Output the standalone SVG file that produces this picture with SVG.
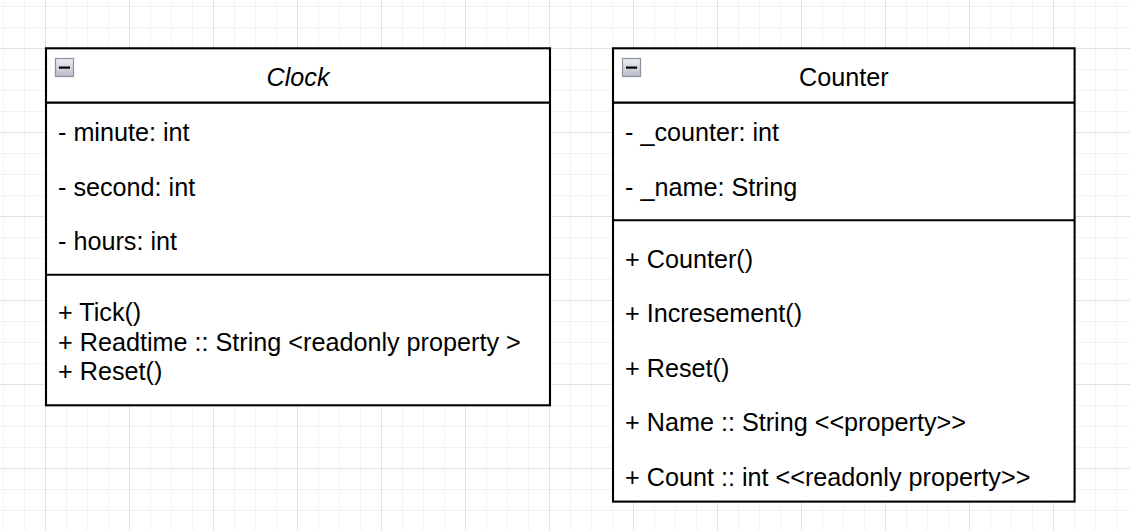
<svg xmlns="http://www.w3.org/2000/svg" width="1130" height="531" viewBox="0 0 1130 531">
  <defs>
    <pattern id="grid" x="45" y="48" width="84" height="84" patternUnits="userSpaceOnUse">
      <rect x="21" y="0" width="1" height="84" fill="#f3f3f3"/>
      <rect x="42" y="0" width="1" height="84" fill="#f3f3f3"/>
      <rect x="63" y="0" width="1" height="84" fill="#f3f3f3"/>
      <rect x="0" y="21" width="84" height="1" fill="#f3f3f3"/>
      <rect x="0" y="42" width="84" height="1" fill="#f3f3f3"/>
      <rect x="0" y="63" width="84" height="1" fill="#f3f3f3"/>
      <rect x="0" y="0" width="1" height="84" fill="#e2e2e2"/>
      <rect x="0" y="0" width="84" height="1" fill="#e2e2e2"/>
    </pattern>
    <linearGradient id="iconFill" x1="0" y1="0" x2="0" y2="1">
      <stop offset="0" stop-color="#eef0f3"/>
      <stop offset="1" stop-color="#b8bcc6"/>
    </linearGradient>
    <g id="collapse">
      <rect x="0.5" y="0.5" width="18" height="18" fill="url(#iconFill)" stroke="#8a92a2" stroke-width="1.2"/>
      <rect x="4" y="8.5" width="11" height="2.2" fill="#000"/>
    </g>
  </defs>
  <style>
    .box { fill: #ffffff; stroke: #000000; stroke-width: 2.1; }
    .sep { stroke: #000000; stroke-width: 2.1; fill: none; }
    text { font-family: "Liberation Sans", Arial, sans-serif; font-size: 25.2px; fill: #000000; }
    .title { text-anchor: middle; }
    .italic { font-style: italic; }
  </style>
  <rect x="0" y="0" width="1130" height="531" fill="#ffffff"/>
  <rect x="0" y="0" width="1130" height="531" fill="url(#grid)"/>

  <g id="clock">
    <rect class="box" x="46" y="48.3" width="504" height="357"/>
    <line class="sep" x1="46" y1="102.6" x2="550" y2="102.6"/>
    <line class="sep" x1="46" y1="274.8" x2="550" y2="274.8"/>
    <use href="#collapse" x="55" y="58"/>
    <text class="title italic" x="298" y="86">Clock</text>
    <text x="58" y="141">- minute: int</text>
    <text x="58" y="195.6">- second: int</text>
    <text x="58" y="250.2">- hours: int</text>
    <text x="58" y="321">+ Tick()</text>
    <text x="58" y="350.7">+ Readtime :: String &lt;readonly property &gt;</text>
    <text x="58" y="380.4">+ Reset()</text>
  </g>

  <g id="counter">
    <rect class="box" x="613" y="48.3" width="461.6" height="453.3"/>
    <line class="sep" x1="613" y1="102.6" x2="1074.6" y2="102.6"/>
    <line class="sep" x1="613" y1="220.2" x2="1074.6" y2="220.2"/>
    <use href="#collapse" x="622" y="58"/>
    <text class="title" x="843.8" y="86">Counter</text>
    <text x="625" y="141">- _counter: int</text>
    <text x="625" y="195.6">- _name: String</text>
    <text x="625" y="267.6">+ Counter()</text>
    <text x="625" y="322.2">+ Incresement()</text>
    <text x="625" y="376.8">+ Reset()</text>
    <text x="625" y="431.4">+ Name :: String &lt;&lt;property&gt;&gt;</text>
    <text x="625" y="486">+ Count :: int &lt;&lt;readonly property&gt;&gt;</text>
  </g>

  <g id="connectors"/>
</svg>
